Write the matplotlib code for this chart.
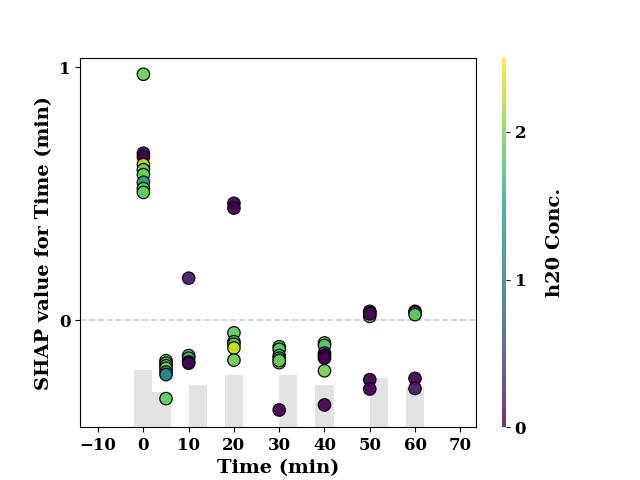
import numpy as np
import matplotlib.pyplot as plt
import matplotlib as mpl

plt.rcParams['font.family'] = 'DejaVu Serif'
plt.rcParams['font.weight'] = 'bold'

# SHAP points: time (min), shap value, h20 conc.
time = [0, 0, 0, 0, 0, 0, 0, 0, 0,
        5, 5, 5, 5, 5, 5, 5,
        10, 10, 10, 10, 10,
        20, 20, 20, 20, 20, 20, 20,
        30, 30, 30, 30, 30, 30, 30,
        40, 40, 40, 40, 40, 40, 40,
        50, 50, 50, 50, 50, 50,
        60, 60, 60, 60, 60]
shap = [0.66, 0.645, 0.615, 0.595, 0.575, 0.545, 0.52, 0.505, 0.972,
        -0.16, -0.17, -0.18, -0.19, -0.205, -0.215, -0.31,
        0.166, -0.14, -0.15, -0.165, -0.17,
        0.462, 0.443, -0.05, -0.085, -0.095, -0.11, -0.158,
        -0.168, -0.105, -0.115, -0.14, -0.15, -0.16, -0.355,
        -0.09, -0.10, -0.13, -0.14, -0.15, -0.20, -0.335,
        0.035, 0.03, 0.015, 0.025, -0.235, -0.272,
        0.035, 0.03, 0.022, -0.23, -0.27]
conc = [0.0, 0.0, 2.3, 1.9, 1.95, 1.5, 1.9, 1.9, 1.95,
        1.9, 1.95, 1.85, 2.0, 1.3, 1.2, 1.9,
        0.2, 1.9, 1.7, 0.6, 0.0,
        0.0, 0.0, 1.9, 1.85, 1.9, 2.3, 1.95,
        2.3, 1.9, 1.85, 1.95, 1.3, 1.95, 0.0,
        1.9, 1.85, 0.4, 0.0, 0.0, 2.0, 0.0,
        1.2, 1.9, 1.9, 0.0, 0.0, 0.0,
        0.3, 1.1, 1.9, 0.0, 0.2]

# background histogram of time
hist_left = [-2, 2, 10, 18, 30, 38, 50, 58]
hist_height = [0.225, 0.138, 0.166, 0.206, 0.206, 0.166, 0.194, 0.158]

fig = plt.figure(figsize=(6.4, 4.8), dpi=100)
ax = fig.add_axes([0.125, 0.110, 0.619, 0.769])
cax = fig.add_axes([0.784, 0.110, 0.006, 0.769])

ymin, ymax = -0.423, 1.036
ax.bar(hist_left, hist_height, width=4, bottom=ymin, align='edge',
       color='#e3e3e3', zorder=0)
ax.axhline(0, color='#cccccc', linestyle='--', linewidth=1.2, zorder=1)

norm = mpl.colors.Normalize(vmin=0, vmax=2.5)
ax.scatter(time, shap, c=conc, cmap='viridis', norm=norm, s=80,
           edgecolors='black', linewidths=0.9, alpha=0.95, zorder=3)

ax.set_xlim(-14, 73.5)
ax.set_ylim(ymin, ymax)
ax.set_xticks(range(-10, 71, 10))
ax.set_yticks([0, 1])
ax.tick_params(labelsize=12)
ax.set_xlabel('Time (min)', fontsize=14, fontweight='bold')
ax.set_ylabel('SHAP value for Time (min)', fontsize=14, fontweight='bold')

cb = mpl.colorbar.ColorbarBase(cax, cmap='viridis', norm=norm, alpha=0.8)
cb.outline.set_visible(False)
cb.set_ticks([0, 1, 2])
cb.ax.tick_params(labelsize=12, length=3)
cb.set_label('h20 Conc.', fontsize=14, fontweight='bold', labelpad=14)

fig.savefig('out.png', dpi=100)
